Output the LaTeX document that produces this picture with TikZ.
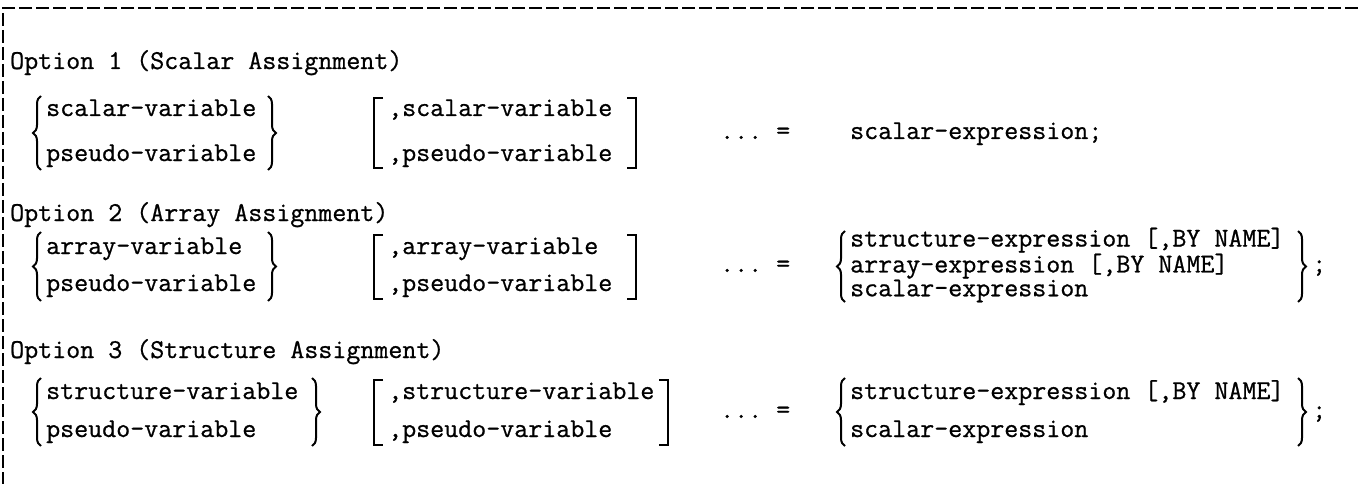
\documentclass[tikz,border=0pt]{standalone}
\usepackage{fontspec}
\newfontfamily\codefont[FakeBold=0.8]{Latin Modern Mono}
\usetikzlibrary{decorations.pathreplacing}

\tikzset{
  code/.style={font=\codefont\fontsize{27.2}{22}\selectfont, anchor=base west, inner sep=0pt},
  frame/.style={line width=2pt, dash pattern=on 13pt off 4pt},
  brc/.style={decorate, decoration={brace, amplitude=8pt}, line width=2pt},
  sqbr/.style={line width=2.2pt},
}

\begin{document}
\begin{tikzpicture}[x=1pt, y=1pt]
  \useasboundingbox (0,0) rectangle (1358,-484);

  % dashed frame, top and left
  \draw[frame] (1358,-8) -- (3,-8) -- (3,-484);

  % Option 1
  \node[code] (h1) at (10,-69) {Option 1 (Scalar Assignment)};
  \node[code] (a1) at (46,-116) {scalar-variable};
  \node[code] (b1) at (46,-161) {pseudo-variable};
  \draw[brc] (41,-170) -- (41,-96);
  \draw[brc] (268,-96) -- (268,-170);
  \node[code] (c1) at (388,-116) {,scalar-variable};
  \node[code] (d1) at (388,-161) {,pseudo-variable};
  \draw[sqbr] (383,-98) -- (374,-98) -- (374,-168) -- (383,-168);
  \draw[sqbr] (627,-98) -- (636,-98) -- (636,-168) -- (627,-168);
  \node[code] (eq1) at (720,-139) {...~=};
  \node[code] (r1) at (850,-139) {scalar-expression;};

  % Option 2
  \node[code] (h2) at (10,-221) {Option 2 (Array Assignment)};
  \node[code] (a2) at (46,-254) {array-variable};
  \node[code] (b2) at (46,-291) {pseudo-variable};
  \draw[brc] (41,-301) -- (41,-232);
  \draw[brc] (268,-232) -- (268,-301);
  \node[code] (c2) at (388,-254) {,array-variable};
  \node[code] (d2) at (388,-291) {,pseudo-variable};
  \draw[sqbr] (383,-235) -- (374,-235) -- (374,-299) -- (383,-299);
  \draw[sqbr] (627,-235) -- (636,-235) -- (636,-299) -- (627,-299);
  \node[code] (eq2) at (720,-272) {...~=};
  \draw[brc] (845,-302) -- (845,-231);
  \node[code, anchor=west, align=left] (r2) at (850,-265)
    {structure-expression [,BY NAME]\\array-expression [,BY NAME]\\scalar-expression};
  \draw[brc] (1298,-231) -- (1298,-302);
  \node[code] (s2) at (1312,-272) {;};

  % Option 3
  \node[code] (h3) at (10,-358) {Option 3 (Structure Assignment)};
  \node[code] (a3) at (46,-399) {structure-variable};
  \node[code] (b3) at (46,-437) {pseudo-variable};
  \draw[brc] (41,-446) -- (41,-378);
  \draw[brc] (312,-378) -- (312,-446);
  \node[code] (c3) at (388,-399) {,structure-variable};
  \node[code] (d3) at (388,-437) {,pseudo-variable};
  \draw[sqbr] (383,-380) -- (374,-380) -- (374,-445) -- (383,-445);
  \draw[sqbr] (659,-380) -- (668,-380) -- (668,-445) -- (659,-445);
  \node[code] (eq3) at (720,-418) {...~=};
  \draw[brc] (845,-446) -- (845,-378);
  \node[code] (r3a) at (850,-399) {structure-expression [,BY NAME]};
  \node[code] (r3b) at (850,-437) {scalar-expression};
  \draw[brc] (1298,-378) -- (1298,-446);
  \node[code] (s3) at (1312,-418) {;};
\end{tikzpicture}
\end{document}
